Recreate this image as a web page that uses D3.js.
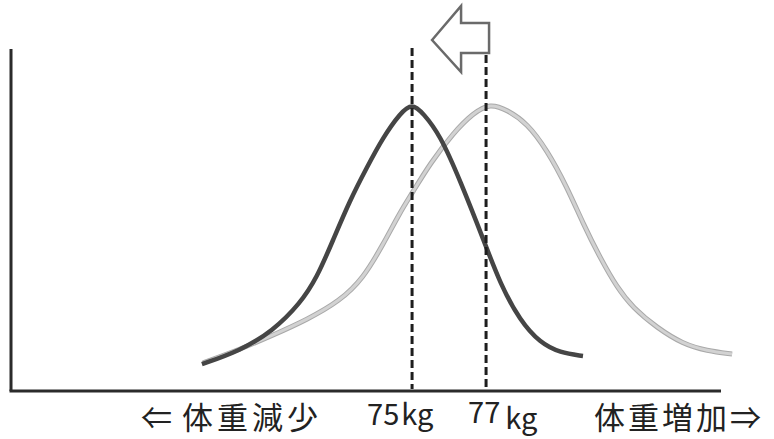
<!DOCTYPE html>
<html>
<head>
<meta charset="utf-8">
<script src="https://cdn.jsdelivr.net/npm/d3@7"></script>
<style>
  html, body { margin: 0; padding: 0; background: #fff; }
  svg { display: block; }
  text { font-family: "Noto Sans CJK JP", "Noto Sans", sans-serif; fill: #222; }
</style>
</head>
<body>
<svg id="chart" width="774" height="439"></svg>
<script>
// ---- Data ----
// Current distribution (after weight loss), mean 75 kg: [kg, relative frequency]
const afterKg   = [69.32, 70.35, 71.24, 71.97, 72.43, 72.86, 73.32, 73.78, 74.22, 74.68, 75.0, 75.30, 75.76, 76.30, 76.97, 77.38, 77.92, 78.46, 79.0, 79.62];
const afterVal  = [9.4, 14.1, 21.1, 30.6, 39.8, 52.8, 66.9, 78.5, 89.1, 97.5, 101, 97.5, 89.8, 73.9, 51.8, 37.7, 24.6, 16.9, 13.4, 12.3];
// Original distribution, mean 77 kg
const beforeKg  = [69.35, 70.35, 71.24, 72.16, 73.05, 73.68, 74.22, 74.68, 75.0, 75.49, 76.11, 76.65, 77.11, 77.57, 78.11, 78.65, 79.19, 79.62, 80.08, 80.54, 80.97, 81.62, 82.32, 82.97, 83.65];
const beforeVal = [9.9, 14.6, 19.6, 25.0, 31.6, 39.5, 51.5, 62.8, 69.4, 79.9, 90.5, 97.5, 101, 98.6, 94.0, 84.5, 71.5, 58.8, 46.8, 36.3, 29.2, 22.2, 16.5, 14.1, 13.0];
// Tick values / labels
const tickValues = [75, 77];
const tickNums   = ["75", "77"];
const tickUnit   = "kg";
const leftLabel  = "体重減少";
const rightLabel = "体重増加";
const leftArrow  = "⇐";
const rightArrow = "⇒";

// ---- Scales ----
const svg = d3.select("#chart");
const x = d3.scaleLinear().domain([64.16, 83.35]).range([11, 721]);
const y = d3.scaleLinear().domain([0, 120]).range([391, 49]);

// ---- Axes (plain lines) ----
svg.append("line")
  .attr("x1", x.range()[0]).attr("x2", x.range()[0])
  .attr("y1", y(0)).attr("y2", y(120))
  .attr("stroke", "#2b2b2b").attr("stroke-width", 3);
svg.append("line")
  .attr("x1", x.range()[0] - 1.5).attr("x2", x.range()[1])
  .attr("y1", y(0)).attr("y2", y(0))
  .attr("stroke", "#2b2b2b").attr("stroke-width", 3);

// ---- Curves ----
const line = d3.line()
  .x(d => x(d[0])).y(d => y(d[1]))
  .curve(d3.curveBasis);

const before = beforeKg.map((k, i) => [k, beforeVal[i]]);
const after  = afterKg.map((k, i) => [k, afterVal[i]]);

// light (before) curve with a faint darker edge
svg.append("path").attr("d", line(before))
  .attr("fill", "none").attr("stroke", "#a9a9a9").attr("stroke-width", 5);
svg.append("path").attr("d", line(before))
  .attr("fill", "none").attr("stroke", "#d2d2d2").attr("stroke-width", 3);

svg.append("path").attr("d", line(after))
  .attr("fill", "none").attr("stroke", "#454545").attr("stroke-width", 4.5);

// ---- Dashed mean lines ----
const dashTops = [48, 55];
tickValues.forEach((v, i) => {
  svg.append("line")
    .attr("x1", x(v)).attr("x2", x(v))
    .attr("y1", dashTops[i]).attr("y2", y(0) - 2)
    .attr("stroke", "#1e1e1e").attr("stroke-width", 3)
    .attr("stroke-dasharray", "8,4");
});

// ---- Shift arrow (from 77 toward 75) ----
const ax0 = x(75), ax1 = x(77);
const arrowPts = [
  [ax0 + 20, 40],
  [ax0 + 49, 6],
  [ax0 + 49, 23],
  [ax1 + 3, 23],
  [ax1 + 3, 53],
  [ax0 + 49, 53],
  [ax0 + 49, 72]
];
svg.append("polygon")
  .attr("points", arrowPts.map(p => p.join(",")).join(" "))
  .attr("fill", "#fff").attr("stroke", "#6a6a6a").attr("stroke-width", 2.5)
  .attr("stroke-linejoin", "miter");

// ---- Tick labels ----
const t75 = svg.append("text").attr("x", x(75) - 45).attr("y", 425)
  .attr("font-size", 29);
t75.append("tspan").text(tickNums[0]);
t75.append("tspan").attr("dx", 2).text(tickUnit);

const t77 = svg.append("text").attr("x", x(77) - 18).attr("y", 423)
  .attr("font-size", 29);
t77.append("tspan").text(tickNums[1]);
t77.append("tspan").attr("dx", 5).attr("dy", 6).text(tickUnit);

// ---- Direction labels ----
svg.append("text").attr("x", 141).attr("y", 429).attr("font-size", 31)
  .text(leftArrow);
svg.append("text").attr("x", 182).attr("y", 429).attr("font-size", 31)
  .attr("letter-spacing", 4).text(leftLabel);
svg.append("text").attr("x", 594).attr("y", 429).attr("font-size", 31)
  .attr("letter-spacing", 3).text(rightLabel + rightArrow);
</script>
</body>
</html>
